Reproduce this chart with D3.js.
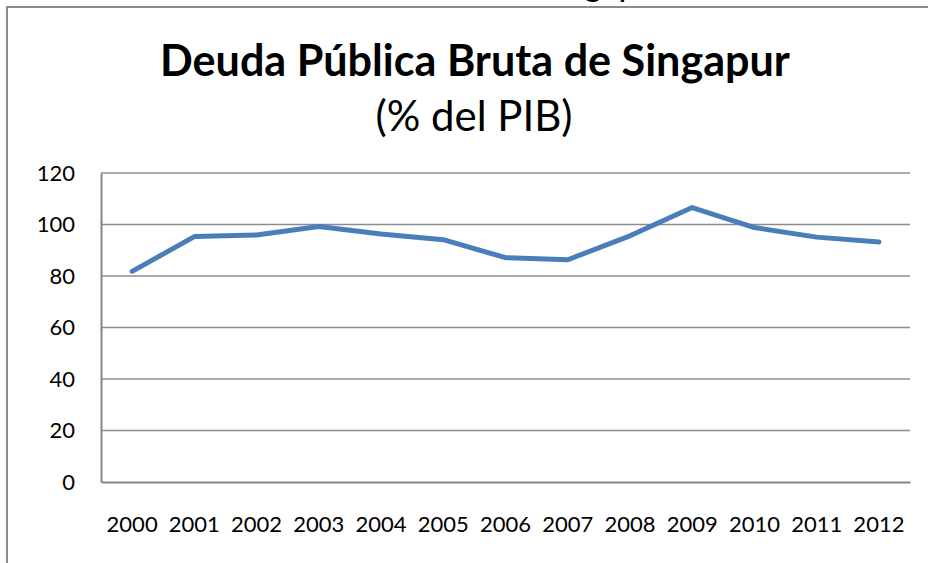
<!DOCTYPE html>
<html>
<head>
<meta charset="utf-8">
<script src="https://cdn.jsdelivr.net/npm/d3@7"></script>
<style>
  html, body { margin: 0; padding: 0; background: #fff; }
  svg { display: block; }
</style>
</head>
<body>
<script>
const years = ["2000","2001","2002","2003","2004","2005","2006","2007","2008","2009","2010","2011","2012"];
const debt = [81.8, 95.3, 95.9, 99.2, 96.3, 94.1, 87.1, 86.3, 95.6, 106.6, 98.8, 95.1, 93.2];
const yTicks = [0, 20, 40, 60, 80, 100, 120];
const titleText = "Deuda Pública Bruta de Singapur";
const subtitleText = "(% del PIB)";

const W = 928, H = 563;
const FONT = "Lato, 'Open Sans', sans-serif";
const svg = d3.select("body").append("svg").attr("width", W).attr("height", H);

// outer chart border (extends beyond view on right/bottom)
svg.append("rect")
  .attr("x", 7).attr("y", 7).attr("width", W + 20).attr("height", H + 20)
  .attr("fill", "#fff").attr("stroke", "#8c8c8c").attr("stroke-width", 2);

// cut-off text fragment peeking at the very top (as in the reference)
const frag = svg.append("text")
  .attr("font-family", FONT).attr("font-size", 34)
  .attr("y", -4).attr("fill", "#000")
  .text(titleText);
const gIdx = titleText.lastIndexOf("g");
const gOff = frag.node().getSubStringLength(0, gIdx);
frag.attr("x", 584 - gOff);

const plot = { left: 101, right: 910, top: 173, bottom: 482 };
const x = d3.scaleBand().domain(years).range([plot.left, plot.right]);
const y = d3.scaleLinear().domain([0, 120]).range([plot.bottom, plot.top]);

function fitWidth(sel, target) {
  const w = sel.node().getComputedTextLength();
  const fs = parseFloat(sel.attr("font-size"));
  sel.attr("font-size", fs * target / w);
}

// title
const t1 = svg.append("text")
  .attr("x", 475).attr("y", 76).attr("text-anchor", "middle")
  .attr("font-family", FONT).attr("font-weight", "bold").attr("font-size", 40)
  .attr("fill", "#000").text(titleText);
fitWidth(t1, 630);
const t2 = svg.append("text")
  .attr("x", 474).attr("y", 131).attr("text-anchor", "middle")
  .attr("font-family", FONT).attr("font-size", 40)
  .attr("fill", "#000").text(subtitleText);
fitWidth(t2, 197);

// gridlines
svg.append("g").selectAll("line").data(yTicks.filter(d => d > 0)).join("line")
  .attr("x1", plot.left).attr("x2", plot.right)
  .attr("y1", d => y(d)).attr("y2", d => y(d))
  .attr("stroke", "#8c8c8c").attr("stroke-width", 1.6);

// y axis
const yAxis = svg.append("g")
  .attr("transform", `translate(${plot.left},0)`)
  .call(d3.axisLeft(y).tickValues(yTicks).tickSize(0).tickPadding(26));
yAxis.select(".domain").attr("stroke", "#868686").attr("stroke-width", 2);
yAxis.selectAll("text").attr("font-family", FONT).attr("font-size", 22).attr("fill", "#000");

// x axis
const xAxis = svg.append("g")
  .attr("transform", `translate(0,${plot.bottom})`)
  .call(d3.axisBottom(x).tickSize(0).tickPadding(34));
xAxis.select(".domain").attr("stroke", "#868686").attr("stroke-width", 2);
xAxis.selectAll("text").attr("font-family", FONT).attr("font-size", 22).attr("fill", "#000");

// line
const line = d3.line()
  .x((d, i) => x(years[i]) + x.bandwidth() / 2)
  .y(d => y(d));
svg.append("path").datum(debt)
  .attr("d", line)
  .attr("fill", "none").attr("stroke", "#4a7ebb").attr("stroke-width", 5)
  .attr("stroke-linejoin", "round").attr("stroke-linecap", "round");
</script>
</body>
</html>
